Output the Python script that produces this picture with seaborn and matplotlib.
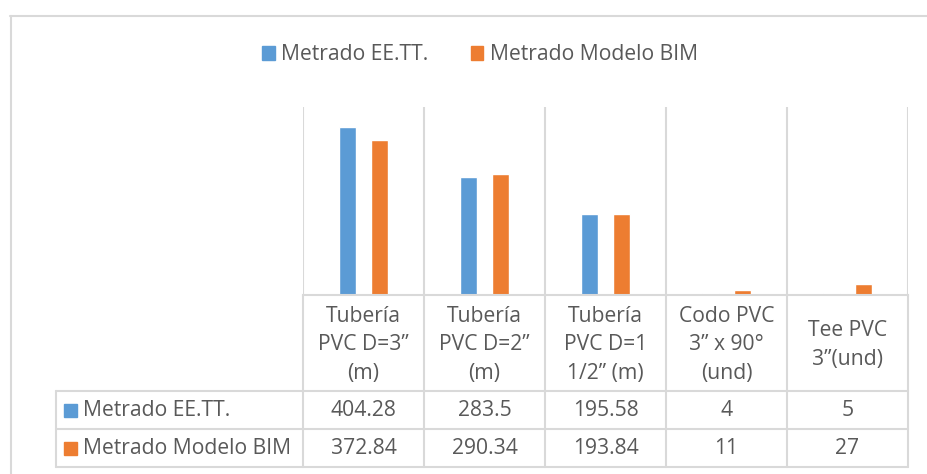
import matplotlib
matplotlib.use("Agg")
import matplotlib.pyplot as plt
from matplotlib.patches import Patch, Rectangle
from matplotlib.lines import Line2D
import seaborn as sns
import pandas as pd

# datos del grafico
categorias = ["Tubería\nPVC D=3”\n(m)", "Tubería\nPVC D=2”\n(m)", "Tubería\nPVC D=1\n1/2” (m)",
              "Codo PVC\n3” x 90°\n(und)", "Tee PVC\n3”(und)"]
series = ["Metrado EE.TT.", "Metrado Modelo BIM"]
metrado_eett = [404.28, 283.5, 195.58, 4, 5]
metrado_bim = [372.84, 290.34, 193.84, 11, 27]
etiquetas_eett = ["404.28", "283.5", "195.58", "4", "5"]
etiquetas_bim = ["372.84", "290.34", "193.84", "11", "27"]

colores = ["#5B9BD5", "#ED7D31"]
gris = "#D9D9D9"
texto = "#595959"

sns.set_theme(style="white")
plt.rcParams["font.family"] = ["Open Sans", "DejaVu Sans"]
fs = 15.2

df = pd.DataFrame({
    "categoria": list(range(5)) * 2,
    "valor": metrado_eett + metrado_bim,
    "serie": [series[0]] * 5 + [series[1]] * 5,
})

W, H = 927, 474
fig = plt.figure(figsize=(W / 100, H / 100), dpi=100)

def fx(px):
    return px / W

def fy(py):
    return (H - py) / H

# grafico de barras
ax = fig.add_axes([fx(303), fy(295), fx(908) - fx(303), fy(107) - fy(295)])
sns.barplot(data=df, x="categoria", y="valor", hue="serie", palette=colores,
            saturation=1, width=0.52, gap=0.46, legend=False, ax=ax, native_scale=True)
ax.set_xlim(-0.5, 4.5)
ax.set_ylim(0, 452)
ax.set_xticks([])
ax.set_yticks([])
ax.set_xlabel("")
ax.set_ylabel("")
for s in ["top", "left", "right"]:
    ax.spines[s].set_visible(False)
ax.spines["bottom"].set_color(gris)
ax.spines["bottom"].set_linewidth(1.5)
for i in range(6):
    ax.axvline(i - 0.5, color=gris, lw=1.5, zorder=0)

# tabla de datos
tax = fig.add_axes([fx(303), fy(467), fx(908) - fx(303), fy(295) - fy(467)])
tax.set_xlim(-0.5, 4.5)
tax.set_ylim(467, 295)
tax.axis("off")
xl = -0.5 - (303 - 56) / 121
kw = dict(color=gris, lw=1.5, clip_on=False)
for i in range(6):
    tax.plot([i - 0.5, i - 0.5], [295, 467], **kw)
tax.plot([xl, xl], [391, 467], **kw)
for yy in [391, 429, 467]:
    tax.plot([xl, 4.5], [yy, yy], **kw)

for i, cat in enumerate(categorias):
    tax.text(i, 345, cat, ha="center", va="center", fontsize=fs, color=texto,
             linespacing=1.5)
    tax.text(i, 410, etiquetas_eett[i], ha="center", va="center", fontsize=fs, color=texto)
    tax.text(i, 448, etiquetas_bim[i], ha="center", va="center", fontsize=fs, color=texto)

sq = 13 / 121
for yc, nombre, c in [(410, series[0], colores[0]), (448, series[1], colores[1])]:
    tax.add_patch(Rectangle((xl + 8 / 121, yc - 6.5), sq, 13, color=c, clip_on=False))
    tax.text(xl + 27 / 121, yc, nombre, ha="left", va="center", fontsize=fs, color=texto)

# leyenda
handles = [Patch(color=c, label=s) for c, s in zip(colores, series)]
fig.legend(handles=handles, loc="center", bbox_to_anchor=(fx(480), fy(55)), ncol=2,
           frameon=False, fontsize=fs, labelcolor=texto, handlelength=0.6,
           handleheight=0.6, handletextpad=0.3, columnspacing=2.0)

# marco exterior
fig.add_artist(Line2D([fx(10), 1], [fy(16), fy(16)], color=gris, lw=1.5))
fig.add_artist(Line2D([fx(11), fx(11)], [fy(16), 0], color=gris, lw=1.5))

fig.savefig("out.png", dpi=100, facecolor="white")
